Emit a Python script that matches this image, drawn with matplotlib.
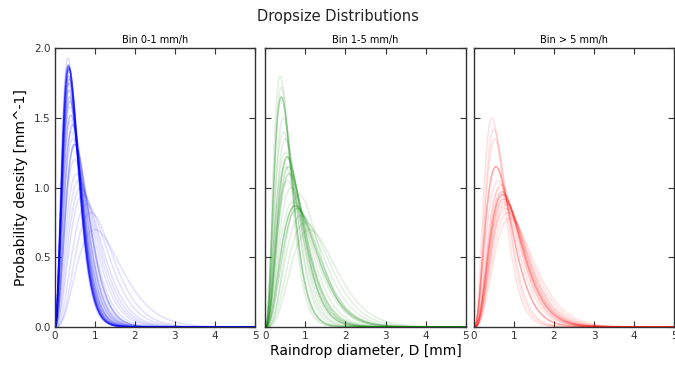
import math
import numpy as np
import matplotlib
matplotlib.use("Agg")
import matplotlib.pyplot as plt

# each curve: (mode [mm], peak density [1/mm], weight)
bin_titles = ["Bin 0-1 mm/h", "Bin 1-5 mm/h", "Bin > 5 mm/h"]
bin_colors = ["blue", "green", "red"]

modes_0_1 = [0.33, 0.34, 0.35, 0.35, 0.35, 0.36, 0.36, 0.37, 0.38, 0.40, 0.42,
             0.45, 0.50, 0.50, 0.55, 0.60, 0.65, 0.70, 0.80, 0.90, 1.00, 0.36,
             0.37, 0.38, 0.40, 0.45]
peaks_0_1 = [1.93, 1.88, 1.87, 1.86, 1.80, 1.75, 1.70, 1.65, 1.58, 1.48, 1.40,
             1.35, 1.31, 1.20, 1.10, 1.05, 1.00, 0.95, 0.88, 0.82, 0.70, 1.85,
             1.78, 1.62, 1.52, 1.45]
weights_0_1 = [1, 3, 3, 3, 2, 2, 2, 2, 1, 1, 1, 1, 3, 1, 1, 1, 1, 1, 1, 1, 1, 3,
               2, 2, 2, 2]

modes_1_5 = [0.37, 0.40, 0.40, 0.45, 0.50, 0.50, 0.55, 0.58, 0.60, 0.55, 0.70,
             0.75, 0.80, 0.90, 1.00, 1.10, 0.65, 0.85, 0.45, 0.50]
peaks_1_5 = [1.80, 1.72, 1.65, 1.50, 1.35, 1.25, 1.22, 1.15, 1.10, 1.05, 0.90,
             0.87, 0.85, 0.80, 0.75, 0.70, 1.00, 0.95, 1.40, 1.15]
weights_1_5 = [1, 1, 3, 1, 1, 1, 3, 2, 2, 1, 1, 3, 2, 1, 1, 1, 1, 1, 1, 1]

modes_5 = [0.45, 0.50, 0.52, 0.55, 0.60, 0.65, 0.70, 0.72, 0.75, 0.80, 0.80,
           0.85, 0.90, 0.68, 0.78]
peaks_5 = [1.50, 1.42, 1.35, 1.15, 1.05, 1.00, 0.97, 0.95, 0.92, 0.88, 0.85,
           0.82, 0.78, 1.02, 0.90]
weights_5 = [1, 1, 1, 3, 1, 1, 2, 3, 2, 1, 1, 1, 1, 1, 1]

bin_modes = [modes_0_1, modes_1_5, modes_5]
bin_peaks = [peaks_0_1, peaks_1_5, peaks_5]
bin_weights = [weights_0_1, weights_1_5, weights_5]


def gamma_peak(mu, mode):
    lam = mu / mode
    return lam * math.exp(mu * math.log(mu) - mu - math.lgamma(mu + 1))


def gamma_dsd(d, mode, peak):
    # find shape mu of the normalised gamma DSD with this mode and peak height
    lo, hi = 0.05, 60.0
    for _ in range(60):
        mid = 0.5 * (lo + hi)
        if gamma_peak(mid, mode) < peak:
            lo = mid
        else:
            hi = mid
    mu = 0.5 * (lo + hi)
    lam = mu / mode
    logf = (mu + 1) * np.log(lam) + mu * np.log(np.maximum(d, 1e-12)) - lam * d - math.lgamma(mu + 1)
    return np.exp(logf)


D = np.linspace(0, 5, 400)

fig = plt.figure(figsize=(6.75, 3.65), dpi=100)
lefts = [0.081, 0.393, 0.702]
axes = [fig.add_axes([l, 0.104, 0.297, 0.764]) for l in lefts]

for i, ax in enumerate(axes):
    for m, p, w in zip(bin_modes[i], bin_peaks[i], bin_weights[i]):
        ax.plot(D, gamma_dsd(D, m, p), color=bin_colors[i], alpha=0.11 * w, lw=1.2)
    ax.set_xlim(0, 5)
    ax.set_ylim(0, 2.0)
    ax.set_xticks([0, 1, 2, 3, 4, 5])
    ax.set_yticks([0.0, 0.5, 1.0, 1.5, 2.0])
    ax.tick_params(direction="in", top=True, right=True, labelsize=7.5, length=4,
                   colors="#333333", pad=3)
    for s in ax.spines.values():
        s.set_color("#333333")
        s.set_linewidth(1.0)
    ax.set_title(bin_titles[i], fontsize=7, pad=4)
    if i > 0:
        ax.set_yticklabels([])

axes[0].set_yticklabels(["0.0", "0.5", "1.0", "1.5", "2.0"])
axes[0].set_ylabel("Probability density [mm^-1]", fontsize=10)
axes[1].set_xlabel("Raindrop diameter, D [mm]", fontsize=10, labelpad=2)
fig.suptitle("Dropsize Distributions", fontsize=10.5, y=0.975, color="#222222")

fig.savefig("out.png", dpi=100)
